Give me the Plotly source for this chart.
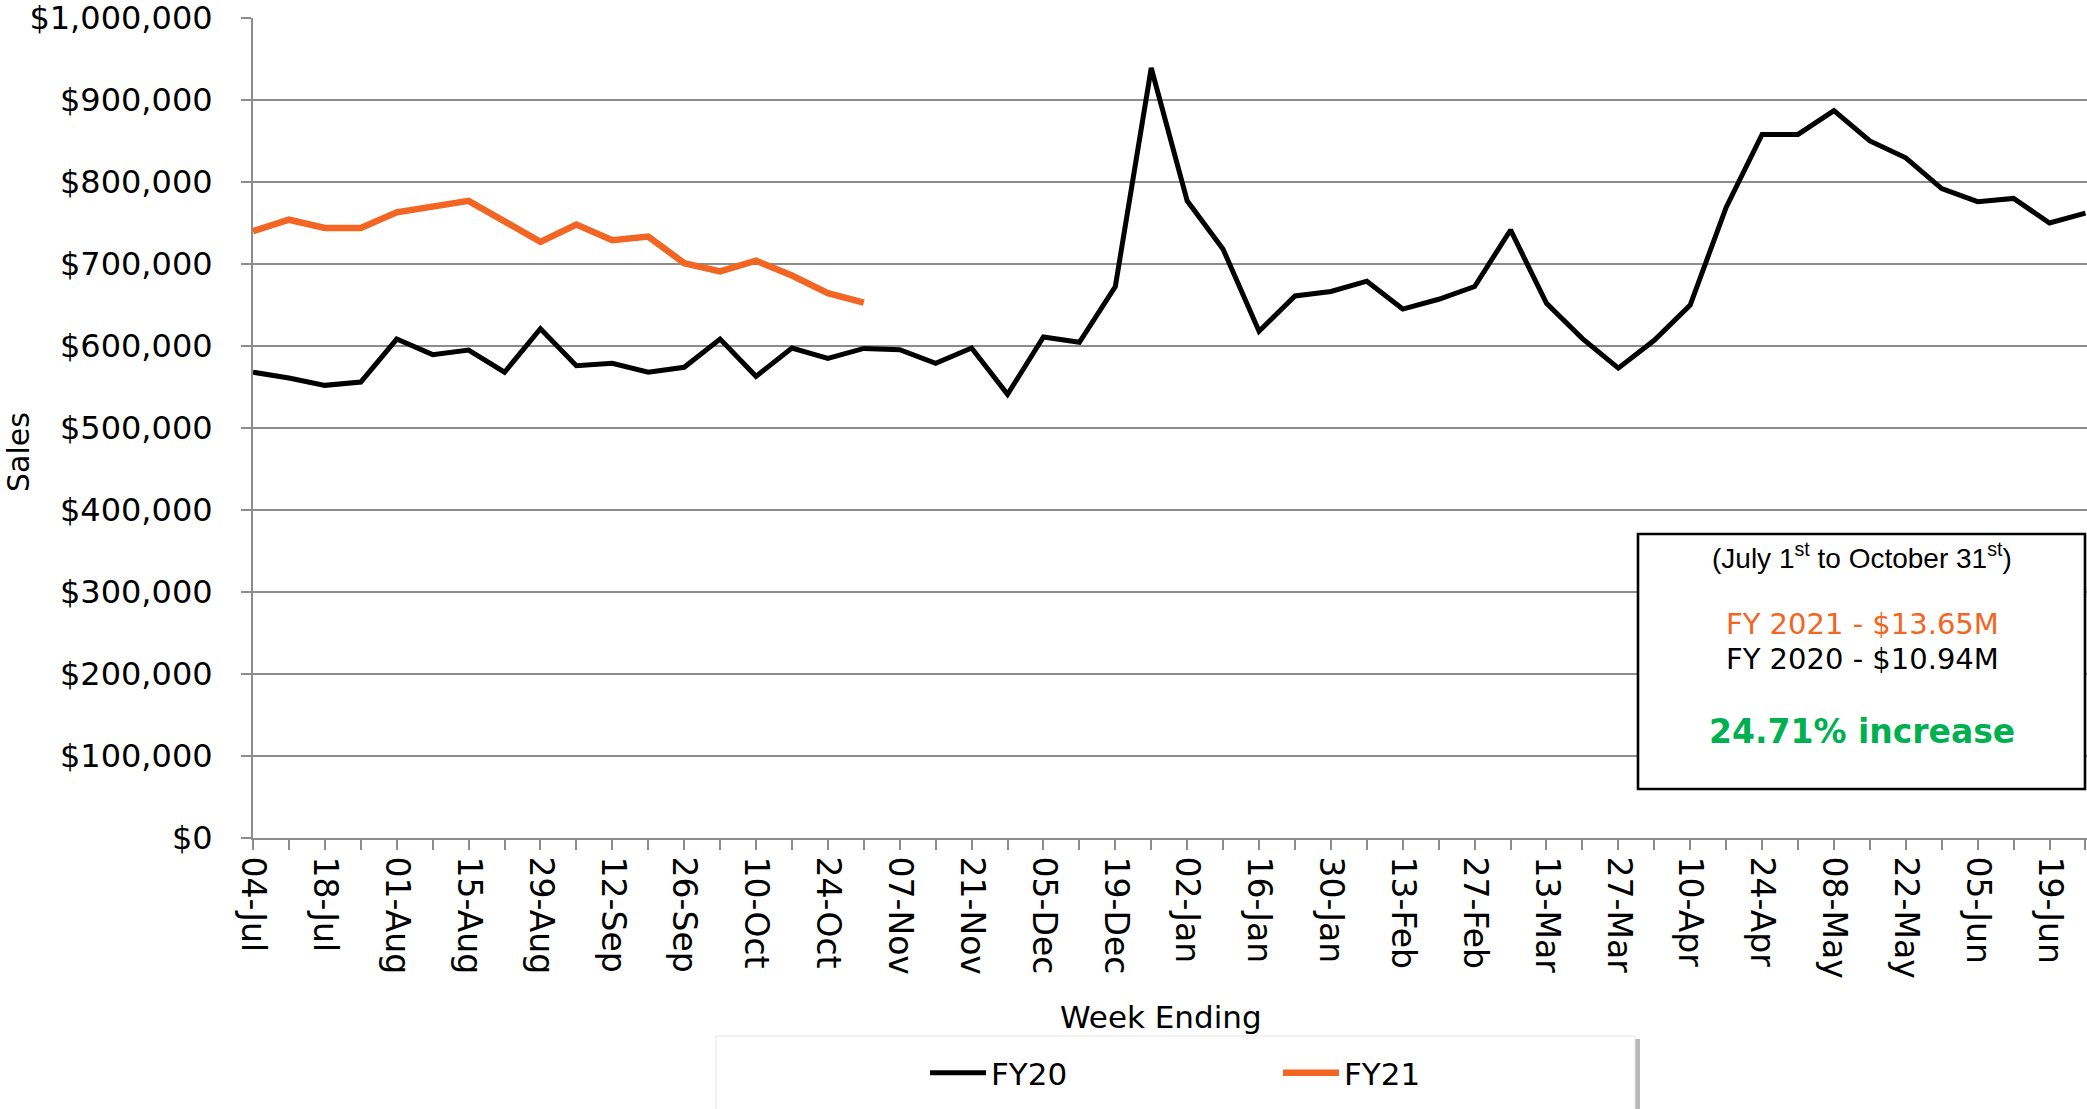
import plotly.graph_objects as go

# ---------------- data ----------------
weeks = ["04-Jul", "11-Jul", "18-Jul", "25-Jul", "01-Aug", "08-Aug", "15-Aug", "22-Aug",
         "29-Aug", "05-Sep", "12-Sep", "19-Sep", "26-Sep", "03-Oct", "10-Oct", "17-Oct",
         "24-Oct", "31-Oct", "07-Nov", "14-Nov", "21-Nov", "28-Nov", "05-Dec", "12-Dec",
         "19-Dec", "26-Dec", "02-Jan", "09-Jan", "16-Jan", "23-Jan", "30-Jan", "06-Feb",
         "13-Feb", "20-Feb", "27-Feb", "06-Mar", "13-Mar", "20-Mar", "27-Mar", "03-Apr",
         "10-Apr", "17-Apr", "24-Apr", "01-May", "08-May", "15-May", "22-May", "29-May",
         "05-Jun", "12-Jun", "19-Jun", "26-Jun"]

fy20 = [568000, 561000, 552000, 556000, 608500, 589500, 595000, 568000,
        621000, 576000, 579000, 568000, 574000, 608500, 563000, 597500,
        585000, 597000, 595500, 579000, 597500, 541000, 611000, 604500,
        672500, 939000, 777000, 718000, 618000, 661000, 666500, 679000,
        645000, 657000, 672500, 741500, 652000, 609000, 573000, 607000,
        650000, 769000, 858000, 858000, 887000, 850000, 829500, 792000,
        776000, 780000, 750000, 762000]

fy21 = [740000, 754000, 744000, 744000, 763000, 771000, 777000, 752000,
        727000, 748000, 729000, 733500, 701000, 691000, 704000, 686000,
        664500, 653000]

y_ticks = [0, 100000, 200000, 300000, 400000, 500000, 600000, 700000, 800000, 900000, 1000000]
y_ticktext = ["$" + format(v, ",") for v in y_ticks]

series_names = ["FY20", "FY21"]
series_colors = ["#000000", "#F26522"]

note_period = "(July 1<sup>st</sup> to October 31<sup>st</sup>)"
note_fy21 = "FY 2021 - $13.65M"
note_fy20 = "FY 2020 - $10.94M"
note_change = "<b>24.71% increase</b>"

# ---------------- layout geometry (pixels) ----------------
W, H = 2087, 1109
ML, MT, MB = 253, 18, 271
PW = W - ML
PH = H - MT - MB
week_px = 35.93


def px_x(p):
    return (p - ML) / PW


def px_y(p):
    return (MT + PH - p) / PH


idx = list(range(len(weeks)))
xmax = PW / week_px

GRID = "#8C8C8C"
FONT = "DejaVu Sans"

fig = go.Figure()
fig.add_trace(go.Scatter(x=idx, y=fy20, mode="lines", name=series_names[0],
                         line=dict(color=series_colors[0], width=5)))
fig.add_trace(go.Scatter(x=idx[:len(fy21)], y=fy21, mode="lines", name=series_names[1],
                         line=dict(color=series_colors[1], width=6.5)))

fig.update_layout(
    width=W, height=H,
    margin=dict(l=ML, r=0, t=MT, b=MB, pad=0, autoexpand=False),
    paper_bgcolor="white", plot_bgcolor="white",
    font=dict(family=FONT, color="black", size=31),
    xaxis=dict(
        range=[0, xmax], tickmode="array", tickvals=idx[::2], ticktext=weeks[::2],
        tickangle=90, tickfont=dict(size=33, family=FONT), automargin=False,
        ticklabeloverflow="allow",
        ticks="outside", ticklen=10, tickwidth=2, tickcolor=GRID,
        minor=dict(tickmode="linear", tick0=0, dtick=1, ticks="outside", ticklen=10,
                   tickwidth=2, tickcolor=GRID, showgrid=False),
        showline=True, linecolor=GRID, linewidth=2, showgrid=False, zeroline=False,
    ),
    xaxis2=dict(
        overlaying="x", anchor="y", side="bottom", range=[0, xmax], automargin=False,
        tickmode="linear", tick0=0, dtick=1, ticks="inside", ticklen=10, tickwidth=2,
        tickcolor=GRID, showticklabels=False, showgrid=False, showline=False, zeroline=False,
    ),
    yaxis=dict(
        range=[0, 1000000], tickmode="array", tickvals=y_ticks, ticktext=y_ticktext,
        tickfont=dict(size=32, family=FONT), automargin=False, ticklabeloverflow="allow",
        ticks="outside", ticklen=10, tickwidth=2, tickcolor=GRID, ticklabelstandoff=22,
        showline=True, linecolor=GRID, linewidth=2,
        showgrid=True, gridcolor=GRID, gridwidth=2, zeroline=False,
    ),
    showlegend=True,
    legend=dict(
        orientation="h", x=px_x(716 + 209), y=px_y(1073), xanchor="left", yanchor="middle",
        bgcolor="rgba(0,0,0,0)", borderwidth=0, font=dict(size=31, family=FONT),
        itemwidth=56, entrywidth=282, entrywidthmode="pixels",
    ),
)

# legend frame with soft shadow
fig.add_shape(type="rect", xref="paper", yref="paper", layer="below",
              x0=px_x(720), x1=px_x(1640), y0=px_y(1120), y1=px_y(1039),
              line=dict(width=0), fillcolor="rgba(0,0,0,0.28)")
fig.add_shape(type="rect", xref="paper", yref="paper", layer="below",
              x0=px_x(716), x1=px_x(1635), y0=px_y(1120), y1=px_y(1036),
              line=dict(width=1, color="#E6E6E6"), fillcolor="white")

# info box
fig.add_shape(type="rect", xref="paper", yref="paper", layer="above",
              x0=px_x(1638), x1=px_x(2085), y0=px_y(789), y1=px_y(534),
              line=dict(width=2.6, color="black"), fillcolor="white")

cx = px_x(1862)
common = dict(xref="paper", yref="paper", showarrow=False, xanchor="center", yanchor="middle")
fig.add_annotation(x=cx, y=px_y(556), text=note_period,
                   font=dict(family="Liberation Sans", size=28, color="black"), **common)
fig.add_annotation(x=cx, y=px_y(624), text=note_fy21,
                   font=dict(family=FONT, size=29, color=series_colors[1]), **common)
fig.add_annotation(x=cx, y=px_y(659), text=note_fy20,
                   font=dict(family=FONT, size=29, color="black"), **common)
fig.add_annotation(x=cx, y=px_y(731), text=note_change,
                   font=dict(family=FONT, size=33, color="#00B050"), **common)

# axis titles
fig.add_annotation(x=px_x(18), y=px_y(452), text="Sales", textangle=-90,
                   font=dict(family=FONT, size=30, color="black"), **common)
fig.add_annotation(x=px_x(1161), y=px_y(1017), text="Week Ending",
                   font=dict(family=FONT, size=31, color="black"), **common)

fig.write_html("out.html", config={"displayModeBar": False},
               post_script="document.body.style.margin='0';")
